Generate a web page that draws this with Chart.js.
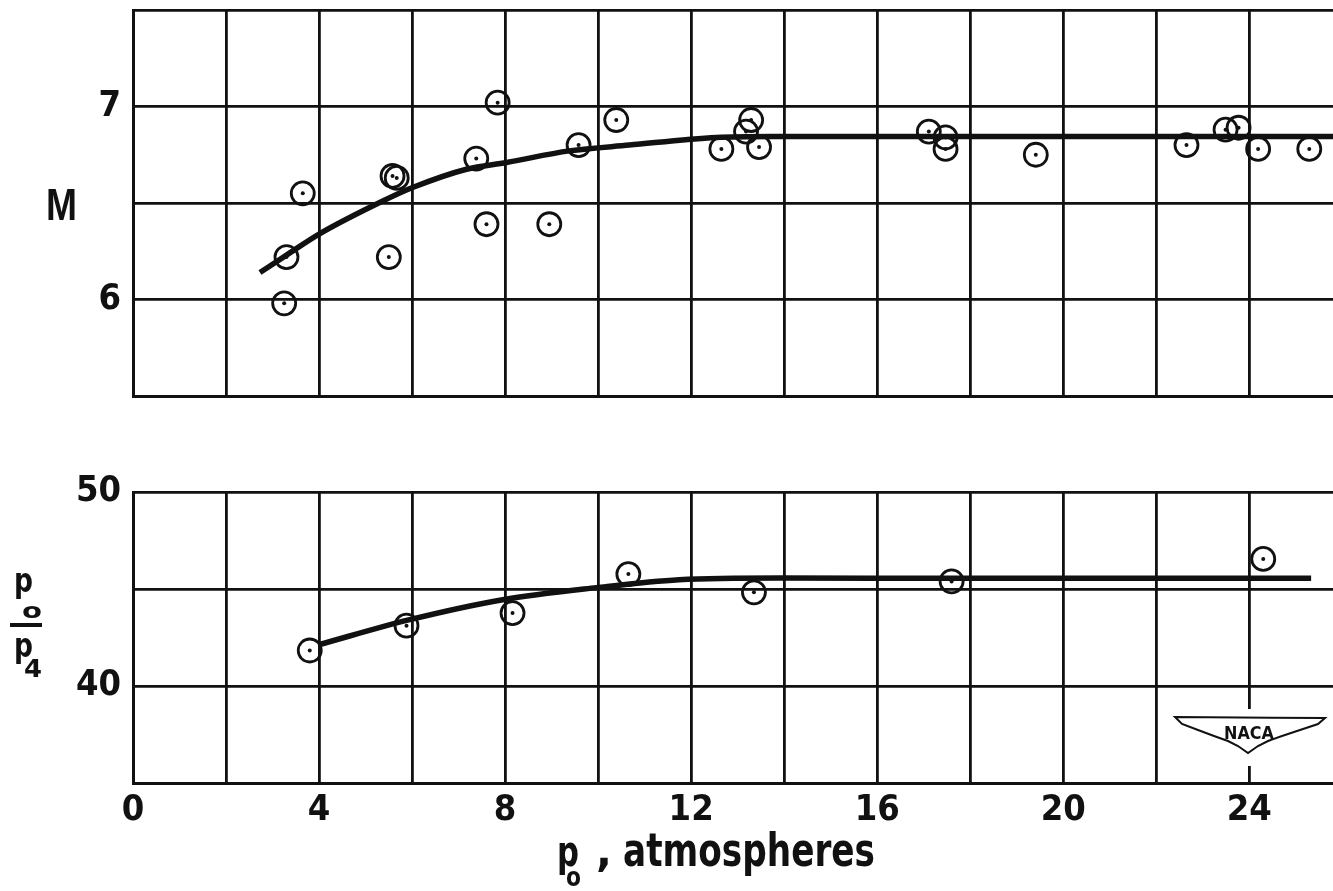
<!DOCTYPE html>
<html>
<head>
<meta charset="utf-8">
<script src="https://cdn.jsdelivr.net/npm/chart.js@4.4.1/dist/chart.umd.min.js"></script>
<style>
  html, body { margin: 0; padding: 0; background: #fff; }
  body { width: 1333px; height: 891px; position: relative; overflow: hidden; }
  canvas { position: absolute; left: 0; }
  #topChart { top: 0; }
  #botChart { top: 460px; }
  #labels { position: absolute; left: 0; top: 0; pointer-events: none; }
</style>
</head>
<body>
<canvas id="topChart" width="1333" height="420"></canvas>
<canvas id="botChart" width="1333" height="431"></canvas>

<svg id="labels" width="1333" height="891" xmlns="http://www.w3.org/2000/svg"
     font-family="'DejaVu Sans', sans-serif" font-weight="bold" fill="#111">
  <!-- axis labels -->
  <text x="46" y="220" font-family="'Liberation Sans', sans-serif" font-size="44" textLength="31" lengthAdjust="spacingAndGlyphs">M</text>

  <text x="14" y="592" font-size="34" textLength="19" lengthAdjust="spacingAndGlyphs">p</text>
  <text x="22" y="618" font-size="22" textLength="20" lengthAdjust="spacingAndGlyphs">o</text>
  <rect x="10" y="623" width="32" height="4"></rect>
  <text x="14" y="657" font-size="34" textLength="19" lengthAdjust="spacingAndGlyphs">p</text>
  <text x="24" y="677" font-size="24" textLength="18" lengthAdjust="spacingAndGlyphs">4</text>

  <text x="557" y="866" font-size="42" textLength="22" lengthAdjust="spacingAndGlyphs">p</text>
  <text x="566" y="886" font-size="26" textLength="15" lengthAdjust="spacingAndGlyphs">o</text>
  <text x="596" y="866" font-size="42">,</text>
  <text x="623" y="866" font-size="46" textLength="252" lengthAdjust="spacingAndGlyphs">atmospheres</text>

  <!-- NACA wing -->
  <rect x="1243" y="709" width="12" height="57" fill="#fff"></rect>
  <polygon points="1175,717 1325,718 1318,724 1300,730 1282,736 1268,741 1258,746 1248,753 1238,746 1228,741 1214,736 1198,730 1182,724"
           fill="#fff" stroke="#111" stroke-width="2"></polygon>
  <text x="1249" y="739" font-size="17" text-anchor="middle" textLength="50" lengthAdjust="spacingAndGlyphs">NACA</text>
</svg>

<script>
// top panel: Mach number against reservoir pressure
const pTop = [3.65, 3.30, 3.25, 5.58, 5.67, 5.50, 7.84, 7.38, 7.60, 8.95, 9.58, 10.39, 12.65,
              13.29, 13.18, 13.46, 17.11, 17.47, 17.47, 19.41, 22.65, 23.49, 23.77, 24.19, 25.29];
const machTop = [6.55, 6.22, 5.98, 6.64, 6.63, 6.22, 7.02, 6.73, 6.39, 6.39, 6.80, 6.93, 6.78,
                 6.93, 6.87, 6.79, 6.87, 6.84, 6.78, 6.75, 6.80, 6.88, 6.89, 6.78, 6.78];
const fitTopP = [2.73, 3.30, 4.01, 5.37, 6.01, 7.17, 8.03, 9.38, 10.67, 12.54, 13.74, 18.0, 22.0, 25.8];
const fitTopM = [6.14, 6.23, 6.34, 6.51, 6.58, 6.675, 6.71, 6.77, 6.80, 6.84, 6.845, 6.845, 6.845, 6.845];

// bottom panel: pressure ratio p0/p4
const pBot = [3.80, 5.88, 8.16, 10.65, 13.35, 17.60, 24.30];
const ratioBot = [41.83, 43.11, 43.76, 45.77, 44.83, 45.39, 46.55];
const fitBotP = [4.01, 5.95, 7.95, 9.96, 11.74, 13.89, 18.0, 25.33];
const fitBotR = [42.14, 43.42, 44.45, 45.07, 45.48, 45.57, 45.55, 45.55];

// tick labels
const xTickLabels = [0, 4, 8, 12, 16, 20, 24];
const topYLabels = [6, 7];
const botYLabels = [40, 50];

const ink = '#111';
const tickFont = { family: "'DejaVu Sans Condensed', 'DejaVu Sans', sans-serif", size: 36, weight: 'bold' };

function pts(xs, ys) {
    return xs.map((x, i) => ({ x: x, y: ys[i] }));
}

function panel(canvasId, px, py, fx, fy, yMin, yMax, yStep, yLabels, showX, padTop, xHeight) {
    const obs = pts(px, py);
    new Chart(document.getElementById(canvasId).getContext('2d'), {
        type: 'scatter',
        data: {
            datasets: [
                {
                    // faired curve
                    type: 'line',
                    data: pts(fx, fy),
                    borderColor: ink,
                    borderWidth: 5.5,
                    pointRadius: 0,
                    cubicInterpolationMode: 'monotone',
                    fill: false
                },
                {
                    // open circle symbols
                    data: obs,
                    pointRadius: 11.5,
                    pointBorderWidth: 2.8,
                    pointBorderColor: ink,
                    pointBackgroundColor: 'rgba(0,0,0,0)'
                },
                {
                    // centre dot in each symbol
                    data: obs,
                    pointRadius: 2,
                    pointBorderWidth: 0,
                    pointBackgroundColor: ink
                }
            ]
        },
        options: {
            responsive: false,
            animation: false,
            events: [],
            layout: {
                autoPadding: false,
                padding: { top: padTop, left: 0, right: 0, bottom: 0 }
            },
            plugins: { legend: { display: false }, tooltip: { enabled: false } },
            scales: {
                x: {
                    type: 'linear',
                    min: 0,
                    max: 25.8,
                    grid: { color: ink, lineWidth: 2.8, drawTicks: false },
                    border: { color: ink, width: 3 },
                    ticks: {
                        display: showX,
                        stepSize: 2,
                        includeBounds: false,
                        autoSkip: false,
                        maxRotation: 0,
                        padding: 6,
                        color: ink,
                        font: tickFont,
                        callback: function(v) {
                            return xTickLabels.includes(v) ? String(v) : '';
                        }
                    },
                    afterFit: function(s) {
                        s.height = xHeight;
                        s.paddingLeft = 0;
                        s.paddingRight = 0;
                    }
                },
                y: {
                    min: yMin,
                    max: yMax,
                    grid: { color: ink, lineWidth: 2.8, drawTicks: false },
                    border: { color: ink, width: 3 },
                    ticks: {
                        stepSize: yStep,
                        autoSkip: false,
                        padding: 12,
                        color: ink,
                        font: tickFont,
                        callback: function(v) {
                            return yLabels.includes(v) ? String(v) : '';
                        }
                    },
                    afterFit: function(s) {
                        s.width = 133;
                        s.paddingTop = 0;
                        s.paddingBottom = 0;
                    }
                }
            }
        }
    });
}

panel('topChart', pTop, machTop, fitTopP, fitTopM, 5.5, 7.5, 0.5, topYLabels, false, 10, 24);
panel('botChart', pBot, ratioBot, fitBotP, fitBotR, 35, 50, 5, botYLabels, true, 32, 108);
</script>
</body>
</html>
